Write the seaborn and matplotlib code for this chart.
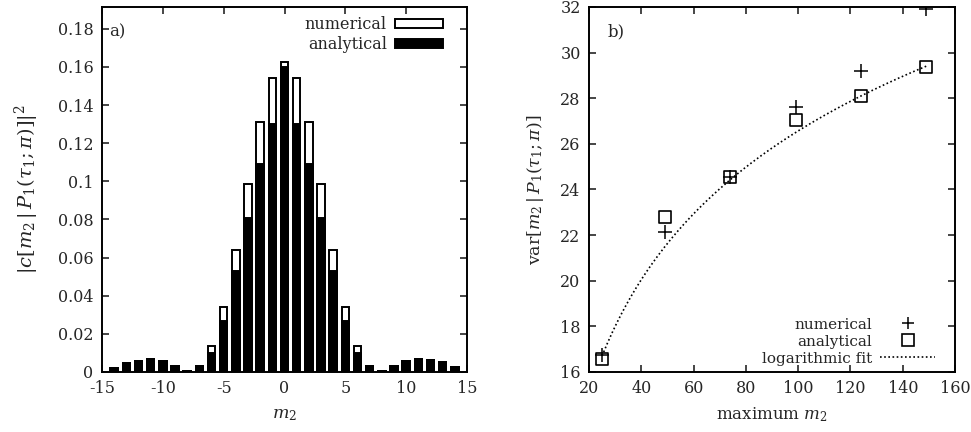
import numpy as np
import pandas as pd
import matplotlib
matplotlib.use("Agg")
import matplotlib.pyplot as plt
import seaborn as sns
from matplotlib.patches import Patch
from matplotlib.lines import Line2D

# panel a) probability distribution over m2
m2_values = list(range(-14, 15))
numerical = [0.0023, 0.0045, 0.0060, 0.0068, 0.0055, 0.0030, 0.0003, 0.0030,
             0.0138, 0.0340, 0.0640, 0.0985, 0.1310, 0.1540, 0.1625,
             0.1540, 0.1310, 0.0985, 0.0640, 0.0340, 0.0138,
             0.0030, 0.0003, 0.0030, 0.0058, 0.0068, 0.0064, 0.0050, 0.0025]
analytical = [0.0023, 0.0045, 0.0060, 0.0068, 0.0055, 0.0030, 0.0003, 0.0030,
              0.0100, 0.0265, 0.0530, 0.0810, 0.1090, 0.1300, 0.1600,
              0.1300, 0.1090, 0.0810, 0.0530, 0.0265, 0.0100,
              0.0030, 0.0003, 0.0030, 0.0058, 0.0068, 0.0064, 0.0050, 0.0025]

# panel b) variance vs maximum m2
max_m2 = [25, 49, 74, 99, 124, 149]
var_numerical = [16.75, 22.15, 24.55, 27.6, 29.2, 31.9]
var_analytical = [16.56, 22.79, 24.53, 27.06, 28.11, 29.35]
fit_a, fit_b = -6.2, 7.115  # var = a + b*ln(max m2)

sns.set_style("ticks")
plt.rcParams["font.family"] = ["DejaVu Serif"]
plt.rcParams["mathtext.fontset"] = "dejavuserif"
plt.rcParams["axes.unicode_minus"] = False
plt.rcParams["font.size"] = 11

fig = plt.figure(figsize=(9.71, 4.32), dpi=100)
ax1 = fig.add_axes([0.105, 0.139, 0.376, 0.845])
ax2 = fig.add_axes([0.6066, 0.139, 0.377, 0.845])

df_a = pd.DataFrame({"m2": m2_values, "numerical": numerical, "analytical": analytical})

sns.barplot(data=df_a, x="m2", y="numerical", native_scale=True, width=0.62,
            color="white", edgecolor="black", linewidth=1.4, saturation=1,
            errorbar=None, ax=ax1)
sns.barplot(data=df_a, x="m2", y="analytical", native_scale=True, width=0.62,
            color="black", edgecolor="black", linewidth=1.4, saturation=1,
            errorbar=None, ax=ax1)

ax1.set_xlim(-15, 15)
ax1.set_ylim(0, 0.1915)
ax1.set_xticks(np.arange(-15, 16, 5))
ax1.set_yticks(np.arange(0, 0.181, 0.02))
ax1.set_yticklabels(["0", "0.02", "0.04", "0.06", "0.08", "0.1", "0.12", "0.14", "0.16", "0.18"])
ax1.set_xlabel(r"$m_2$", fontsize=12.5, labelpad=6)
ax1.set_ylabel(r"$|c[m_2\,|\,P_1(\tau_1;\pi)]|^2$", fontsize=14, labelpad=12)
ax1.text(0.02, 0.955, "a)", transform=ax1.transAxes, fontsize=12, va="top")

leg_a = [Patch(facecolor="white", edgecolor="black", linewidth=1.4, label="numerical"),
         Patch(facecolor="black", edgecolor="black", linewidth=1.4, label="analytical")]
ax1.legend(handles=leg_a, loc="upper right", markerfirst=False, frameon=False,
           handlelength=3.0, handleheight=0.5, handletextpad=0.5, labelspacing=0.15,
           borderaxespad=0.2, bbox_to_anchor=(0.96, 1.0), fontsize=11.5)

sns.scatterplot(x=max_m2, y=var_numerical, marker="+", s=90, color="black",
                linewidth=1.1, ax=ax2)
sns.scatterplot(x=max_m2, y=var_analytical, marker="s", s=75, color="black",
                facecolor="none", edgecolor="black", linewidth=1.2, ax=ax2)
fit_x = np.linspace(max_m2[0], max_m2[-1], 200)
sns.lineplot(x=fit_x, y=fit_a + fit_b * np.log(fit_x), color="black",
             linestyle=(0, (1, 1.5)), linewidth=1.2, ax=ax2)

ax2.set_xlim(20, 160)
ax2.set_ylim(16, 32)
ax2.set_xticks(np.arange(20, 161, 20))
ax2.set_yticks(np.arange(16, 33, 2))
ax2.set_xlabel(r"maximum $m_2$", fontsize=12, labelpad=6)
ax2.set_ylabel(r"var$[m_2\,|\,P_1(\tau_1;\pi)]$", fontsize=12.5, labelpad=10)
ax2.text(0.05, 0.955, "b)", transform=ax2.transAxes, fontsize=12, va="top")

leg_b = [Line2D([], [], marker="+", color="black", linestyle="none", markersize=9,
                markeredgewidth=1.1, label="numerical"),
         Line2D([], [], marker="s", color="black", markerfacecolor="none", linestyle="none",
                markersize=8, markeredgewidth=1.2, label="analytical"),
         Line2D([], [], color="black", linestyle=(0, (1, 1.5)), linewidth=1.2,
                label="logarithmic fit")]
ax2.legend(handles=leg_b, loc="lower right", markerfirst=False, frameon=False,
           handlelength=3.6, handletextpad=0.5, labelspacing=0.2,
           borderaxespad=0.0, bbox_to_anchor=(0.962, 0.0), fontsize=11)

for ax in (ax1, ax2):
    ax.tick_params(direction="in", top=True, right=True, length=5, width=1.2,
                   labelsize=11.5, pad=6)
    for s in ax.spines.values():
        s.set_linewidth(1.4)
        s.set_color("black")

fig.savefig("out.png", dpi=100)
